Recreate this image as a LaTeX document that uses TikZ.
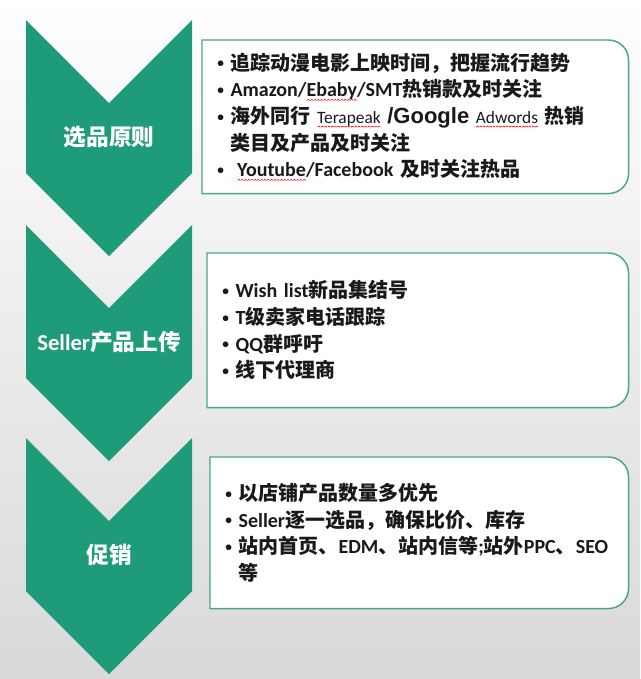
\documentclass[tikz,border=0pt]{standalone}
\usepackage{fontspec}
\setmainfont{Carlito}
\newfontfamily\cjk{Noto Sans CJK SC}
\newfontfamily\arialfont{Liberation Sans}
\usetikzlibrary{backgrounds}

\definecolor{chevgreen}{RGB}{30,155,120}
\definecolor{framegreen}{RGB}{75,165,135}
\newcommand{\zh}[1]{{\cjk #1}}
\newcommand{\dotmark}{{\fontsize{10}{20}\selectfont\raisebox{1.8pt}{•}}~}
\newsavebox{\wavebox}
\newcommand{\spellwave}[1]{\leavevmode\setbox0\hbox{#1}%
    \rlap{\lower3pt\hbox to\wd0{\xleaders\copy\wavebox\hfill}}#1}

\begin{document}
\sbox{\wavebox}{\pgfpicture
    \pgfsetcolor{red}\pgfsetlinewidth{0.45pt}
    \pgfpathmoveto{\pgfpointorigin}
    \pgfpathlineto{\pgfpoint{1pt}{0.8pt}}
    \pgfpathlineto{\pgfpoint{2pt}{0pt}}
    \pgfusepath{stroke}\endpgfpicture}
\begin{tikzpicture}[x=0.75pt, y=-0.75pt,
        chevron/.style={fill=chevgreen},
        chevlabel/.style={text=white, inner sep=0pt, font=\fontsize{17}{20}\selectfont\bfseries},
        infobox/.style={anchor=north west, inner xsep=11.25pt, inner ysep=0pt, align=left,
            text=black!90, font=\fontsize{15}{20}\selectfont\bfseries},
        boxframe/.style={draw=framegreen, line width=1.1pt, fill=white}]

        \begin{scope}[on background layer]
            \shade[top color=white, bottom color=gray!30] (0,0) rectangle (640,679);
        \end{scope}

        % chevrons on the left
        \foreach \t/\lab [count=\i] in {20/\zh{选品原则}, 225/Seller\zh{产品上传}, 438/\zh{促销}} {
            \fill[chevron] (26,\t) -- (109,\t+83) -- (192,\t) -- (192,\t+153)
                -- (109,\t+236) -- (26,\t+153) -- cycle;
            \node[chevlabel] (c\i) at (109,\t+117) {\lab};
        }

        % text boxes
        \node[infobox, text width=297pt, minimum height=114.75pt] (b1) at (202,40) {%
            \dotmark\zh{追踪动漫电影上映时间，把握流行趋势}\\
            \dotmark Amazon/\spellwave{Ebaby}/SMT\zh{热销款及时关注}\\
            \dotmark\zh{海外同行} {\mdseries\fontsize{13}{20}\selectfont\spellwave{Terapeak}}
            {\arialfont\fontsize{16.5}{20}\selectfont /Google}
            {\mdseries\fontsize{13}{20}\selectfont\spellwave{Adwords}} \zh{热销}\\
            \hphantom{\dotmark}\zh{类目及产品及时关注}\\
            \dotmark~\spellwave{Youtube}/Facebook \zh{及时关注热品}};

        \node[infobox, text width=293.25pt, minimum height=115.5pt] (b2) at (207,253) {%
            \dotmark Wish list\zh{新品集结号}\\
            \dotmark T\zh{级卖家电话跟踪}\\
            \dotmark QQ\zh{群呼吁}\\
            \dotmark\zh{线下代理商}};

        \node[infobox, text width=291pt, minimum height=113.25pt] (b3) at (210,457) {%
            \dotmark\zh{以店铺产品数量多优先}\\
            \dotmark Seller\zh{逐一选品，确保比价、库存}\\
            \dotmark\zh{站内首页、}EDM\zh{、站内信等};\zh{站外}PPC\zh{、}SEO\\
            \hphantom{\dotmark}\zh{等}};

        \begin{scope}[on background layer]
            \foreach \b in {b1,b2,b3}
                \path[boxframe] (\b.west) -- (\b.north west) -- (\b.north) [rounded corners=15pt]
                    -- (\b.north east) -- (\b.south east) -- (\b.south) [sharp corners]
                    -- (\b.south west) -- cycle;
        \end{scope}
    \end{tikzpicture}
\end{document}
